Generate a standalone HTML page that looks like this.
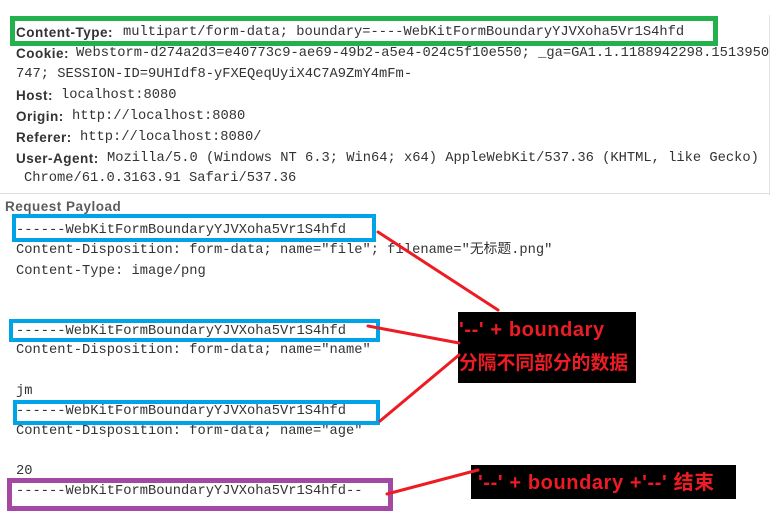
<!DOCTYPE html>
<html><head><meta charset="utf-8"><style>
html,body{margin:0;padding:0;background:#fff;}
body{width:772px;height:523px;position:relative;overflow:hidden;}
.t{position:absolute;white-space:pre;line-height:20px;height:20px;}
.m{font-family:"Liberation Mono","Noto Sans CJK SC",monospace;font-size:13.75px;color:#333;}
.b{font-family:"Liberation Sans",sans-serif;font-weight:bold;font-size:13.5px;letter-spacing:0.5px;color:#333;}
.box{position:absolute;box-sizing:border-box;}
.lbl{position:absolute;background:#000;}
.r{position:absolute;white-space:pre;color:#ed1c24;font-family:"Liberation Sans","Noto Sans CJK SC",sans-serif;font-weight:bold;}
</style></head><body>
<!-- panel lines -->
<div style="position:absolute;left:769px;top:15px;width:1px;height:180px;background:#e2e2e2"></div>
<div style="position:absolute;left:0;top:193px;width:770px;height:1px;background:#dcdcdc"></div>

<!-- headers -->
<div class="t b" style="left:16px;top:23px">Content-Type:</div>
<div class="t m" style="left:123px;top:23px">multipart/form-data; boundary=----WebKitFormBoundaryYJVXoha5Vr1S4hfd</div>
<div class="t b" style="left:16px;top:44px">Cookie:</div>
<div class="t m" style="left:76px;top:44px">Webstorm-d274a2d3=e40773c9-ae69-49b2-a5e4-024c5f10e550; _ga=GA1.1.1188942298.1513950</div>
<div class="t m" style="left:16px;top:65px">747; SESSION-ID=9UHIdf8-yFXEQeqUyiX4C7A9ZmY4mFm-</div>
<div class="t b" style="left:16px;top:86px">Host:</div>
<div class="t m" style="left:61px;top:86px">localhost:8080</div>
<div class="t b" style="left:16px;top:107px">Origin:</div>
<div class="t m" style="left:72px;top:107px">http://localhost:8080</div>
<div class="t b" style="left:16px;top:128px">Referer:</div>
<div class="t m" style="left:80px;top:128px">http://localhost:8080/</div>
<div class="t b" style="left:16px;top:149px">User-Agent:</div>
<div class="t m" style="left:107px;top:149px">Mozilla/5.0 (Windows NT 6.3; Win64; x64) AppleWebKit/537.36 (KHTML, like Gecko)</div>
<div class="t m" style="left:24px;top:169px">Chrome/61.0.3163.91 Safari/537.36</div>

<div class="t b" style="left:5px;top:197px;color:#5c5c5c">Request Payload</div>

<!-- payload -->
<div class="t m" style="left:16px;top:221px">------WebKitFormBoundaryYJVXoha5Vr1S4hfd</div>
<div class="t m" style="left:16px;top:241px">Content-Disposition: form-data; name="file"; filename="无标题.png"</div>
<div class="t m" style="left:16px;top:262px">Content-Type: image/png</div>
<div class="t m" style="left:16px;top:322px">------WebKitFormBoundaryYJVXoha5Vr1S4hfd</div>
<div class="t m" style="left:16px;top:341px">Content-Disposition: form-data; name="name"</div>
<div class="t m" style="left:16px;top:382px">jm</div>
<div class="t m" style="left:16px;top:402px">------WebKitFormBoundaryYJVXoha5Vr1S4hfd</div>
<div class="t m" style="left:16px;top:422px">Content-Disposition: form-data; name="age"</div>
<div class="t m" style="left:16px;top:462px">20</div>
<div class="t m" style="left:16px;top:482px">------WebKitFormBoundaryYJVXoha5Vr1S4hfd--</div>

<!-- boxes -->
<div class="box" style="left:10px;top:16px;width:708px;height:30px;border:5px solid #22b14c"></div>
<div class="box" style="left:12px;top:214px;width:364px;height:28px;border:4px solid #00a2e8"></div>
<div class="box" style="left:9px;top:319px;width:371px;height:23px;border:4px solid #00a2e8"></div>
<div class="box" style="left:13px;top:400px;width:367px;height:25px;border:4px solid #00a2e8"></div>
<div class="box" style="left:7px;top:478px;width:386px;height:33px;border:5px solid #a349a4"></div>

<!-- black labels -->
<div class="lbl" style="left:458px;top:312px;width:178px;height:71px"></div>
<div class="r" style="left:459px;top:318px;font-size:20px;line-height:24px;letter-spacing:0.6px">'--' + boundary</div>
<div class="r" style="left:459px;top:350px;font-size:18.8px;line-height:26px">分隔不同部分的数据</div>
<div class="lbl" style="left:471px;top:465px;width:265px;height:34px"></div>
<div class="r" style="left:478px;top:470px;font-size:20px;line-height:26px;letter-spacing:0.6px">'--' + boundary +'--' 结束</div>

<!-- red connectors -->
<svg style="position:absolute;left:0;top:0" width="772" height="523">
<g stroke="#ed1c24" stroke-width="3" stroke-linecap="round" fill="none">
<line x1="378" y1="232" x2="498" y2="310"/>
<line x1="368" y1="326" x2="459" y2="343"/>
<line x1="380" y1="421" x2="459" y2="355"/>
<line x1="387" y1="494" x2="478" y2="470"/>
</g>
</svg>
</body></html>
